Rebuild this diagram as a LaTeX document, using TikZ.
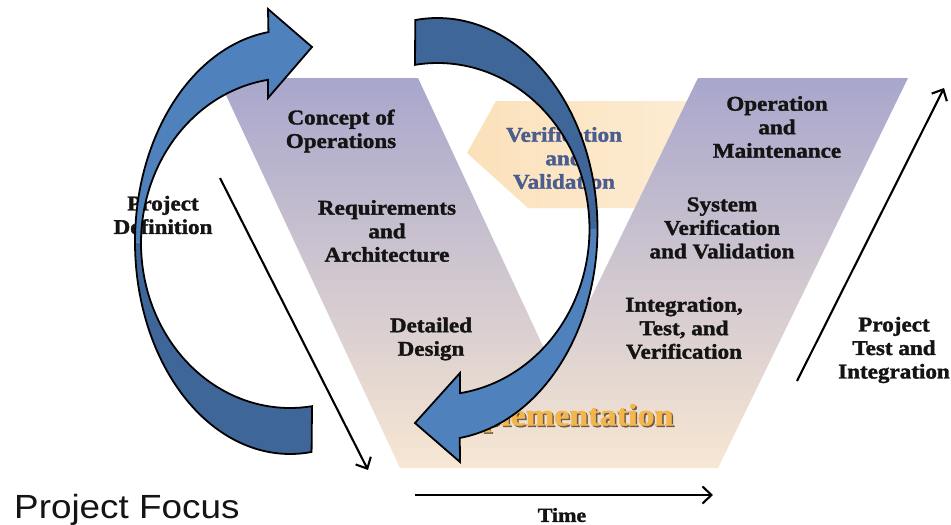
\documentclass[tikz,border=0pt]{standalone}
\usepackage{fontspec}
\setmainfont{Liberation Serif}[FakeStretch=1.1, BoldFeatures={FakeBold=1.6}]
\newfontfamily\pfsans{Liberation Sans}[FakeStretch=1.1]
\usetikzlibrary{arrows.meta}
\definecolor{armlight}{HTML}{4F81BD}
\definecolor{armdark}{HTML}{3F6698}
\definecolor{vtop}{HTML}{A8A6CC}
\definecolor{vmid}{HTML}{D0C7D8}
\definecolor{vbot}{HTML}{F7E7D3}
\definecolor{vvleft}{HTML}{FBE1BA}
\definecolor{vvright}{HTML}{FDEDD6}
\definecolor{vvtext}{HTML}{4B5D8F}
\definecolor{impgold}{HTML}{F2B64C}
\definecolor{impshadow}{HTML}{6E5A4A}
\definecolor{inktext}{HTML}{141414}
\begin{document}
\begin{tikzpicture}[x=1pt,y=-1pt,
  lbl/.style={font=\fontsize{21}{23.5}\selectfont\bfseries, align=center, inner sep=0pt, text=inktext},
  vvlbl/.style={lbl, text=vvtext},
  flow/.style={draw=black, line width=2.1pt, -{Straight Barb[length=9pt,width=17pt]}},
  outline/.style={draw=black, line width=1.8pt, line join=miter}
]
\useasboundingbox (0,0) rectangle (951,525);
\fill[white] (0,0) rectangle (951,525);

% Verification and Validation backdrop arrow
\shade[left color=vvleft, right color=vvright] (496,101) -- (720,101) -- (720,208) -- (528,208) -- (467,153) -- cycle;

% V shape
\shade[top color=vtop, middle color=vmid, bottom color=vbot]
  (218,78) -- (418,78) -- (555,372) -- (698,78) -- (908,78) -- (718,468) -- (400,468) -- cycle;

% phase labels
\node[lbl] (conops) at (341,131) {Concept of\\Operations};
\node[lbl] (req) at (387,231) {Requirements\\and\\Architecture};
\node[lbl] (dd) at (431,339) {Detailed\\Design};
\node[lbl] (om) at (777,127) {Operation\\and\\Maintenance};
\node[lbl] (svv) at (722,228) {System\\Verification\\and Validation};
\node[lbl] (itv) at (684,328) {Integration,\\Test, and\\Verification};
\node[vvlbl] (vv) at (564,158) {Verification\\and\\Validation};

% Implementation
\node[lbl, font=\fontsize{31}{34}\selectfont\bfseries, text=impshadow] at (558.5,419.5) {Implementation};
\node[lbl, font=\fontsize{31}{34}\selectfont\bfseries, text=impgold] (impl) at (557,418) {Implementation};

% side labels
\node[lbl] (pdef) at (163,215) {Project\\Definition};
\node[lbl] (ptest) at (894,350) {Project\\Test and\\Integration};
\node[lbl, font=\fontsize{20}{23}\selectfont\bfseries] (time) at (562,515) {Time};
\node[font=\pfsans\fontsize{33.5}{36}\selectfont, anchor=base west, inner sep=0pt, text=inktext] (focus) at (14,518) {Project Focus};

% connectors
\coordinate (pdS) at (220,178);
\coordinate (pdE) at (368,470);
\coordinate (ptS) at (797,381);
\coordinate (ptE) at (944,88);
\coordinate (tS) at (415,495);
\coordinate (tE) at (713,495);
\draw[flow] (pdS) -- (pdE);
\draw[flow] (ptS) -- (ptE);
\draw[flow] (tS) -- (tE);

% left circular arrow (center 290,242)
\fill[armdark]
  plot[domain=82:180, samples=60] ({290+155*cos(\x)},{242+212*sin(\x)})
  -- plot[domain=180:81.5, samples=60] ({290+149*cos(\x)},{243+165*sin(\x)}) -- cycle;
\fill[armlight]
  plot[domain=180:262, samples=60] ({290+155*cos(\x)},{242+212*sin(\x)})
  -- (268,9) -- (312,47) -- (268,98)
  -- plot[domain=261.5:180, samples=60] ({290+149*cos(\x)},{243+165*sin(\x)}) -- cycle;
\draw[outline]
  plot[domain=82:262, samples=120] ({290+155*cos(\x)},{242+212*sin(\x)})
  -- (268,9) -- (312,47) -- (268,98)
  -- plot[domain=261.5:81.5, samples=120] ({290+149*cos(\x)},{243+165*sin(\x)}) -- cycle;

% right circular arrow (center 437.5,229)
\fill[armdark]
  plot[domain=-98:0, samples=60] ({437.5+160*cos(\x)},{229+211*sin(\x)})
  -- plot[domain=0:-98.5, samples=60] ({437.5+152*cos(\x)},{229+166*sin(\x)}) -- cycle;
\fill[armlight]
  plot[domain=0:82, samples=60] ({437.5+160*cos(\x)},{229+211*sin(\x)})
  -- (460,462) -- (415,423) -- (460,373)
  -- plot[domain=81.5:0, samples=60] ({437.5+152*cos(\x)},{229+166*sin(\x)}) -- cycle;
\draw[outline]
  plot[domain=-98:82, samples=120] ({437.5+160*cos(\x)},{229+211*sin(\x)})
  -- (460,462) -- (415,423) -- (460,373)
  -- plot[domain=81.5:-98.5, samples=120] ({437.5+152*cos(\x)},{229+166*sin(\x)}) -- cycle;
\end{tikzpicture}
\end{document}
